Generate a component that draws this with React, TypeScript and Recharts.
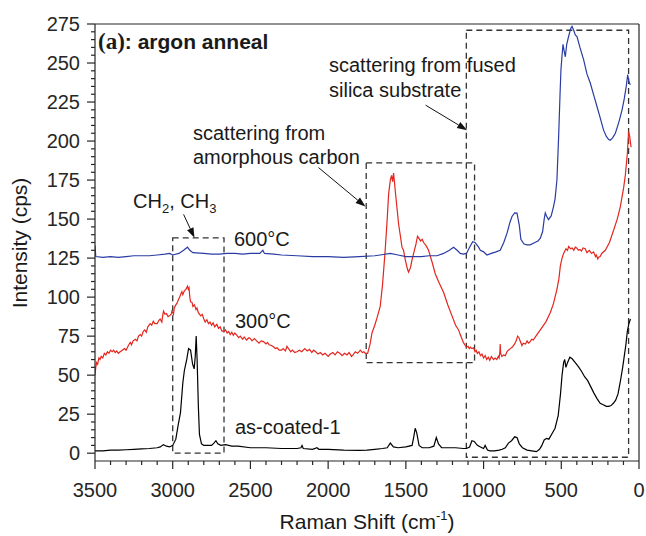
import React from 'react';
import { LineChart, Line, XAxis, YAxis, ReferenceArea, ReferenceLine } from 'recharts';

const FONT = '"Liberation Sans", Arial, sans-serif';
const SERIF = '"Liberation Serif", "Times New Roman", serif';
const INK = '#262626';

// as-coated-1 (black)
const coatedShift = [3500, 3450, 3400, 3350, 3300, 3250, 3200, 3150, 3100, 3080, 3060, 3040, 3020, 3000, 2980, 2965, 2950, 2935, 2925, 2910, 2898, 2885, 2872, 2862, 2855, 2849, 2843, 2835, 2828, 2815, 2800, 2780, 2750, 2735, 2722, 2710, 2690, 2660, 2620, 2580, 2500, 2400, 2300, 2200, 2175, 2168, 2160, 2100, 2072, 2060, 2000, 1900, 1800, 1750, 1700, 1650, 1620, 1600, 1580, 1550, 1500, 1460, 1450, 1440, 1430, 1415, 1395, 1350, 1320, 1304, 1290, 1270, 1230, 1180, 1130, 1110, 1090, 1075, 1060, 1040, 1020, 1000, 990, 975, 960, 930, 900, 880, 860, 840, 820, 800, 785, 770, 750, 720, 690, 660, 640, 625, 610, 595, 580, 560, 540, 520, 505, 495, 485, 478, 470, 460, 445, 430, 410, 390, 370, 350, 330, 310, 290, 270, 250, 230, 210, 195, 180, 165, 150, 135, 120, 105, 95, 85, 75, 65, 55];
const coatedValue = [1.5, 1.5, 2, 2, 2.2, 2.5, 2.8, 3, 3.5, 4, 5.5, 4.5, 4, 5, 9, 18, 26, 45, 53, 60, 67, 66, 57, 54, 62, 75, 60, 30, 12, 6, 5, 5, 5, 6.5, 8, 6, 5, 5.5, 4.5, 4.5, 3.5, 3.5, 3, 3, 3.5, 5, 3, 2.5, 3.5, 2.5, 2.5, 2, 1.8, 2, 2.5, 3, 3.5, 6.5, 4, 3.5, 4, 5, 10, 16, 13, 5, 3.5, 3.5, 4.5, 10, 6, 3.5, 3.5, 3.5, 3, 3, 4, 8, 7.5, 5, 4, 3, 5, 2, 1.5, 1.5, 2, 2.5, 3.5, 6.5, 8, 10.5, 10, 6, 3.5, 2, 1.5, 1, 2.5, 5, 8.5, 9.5, 9, 12.5, 16, 24, 38, 50, 58, 60, 55, 58, 61.5, 60.5, 58, 55.5, 52.5, 49, 46.5, 42.5, 38.5, 35, 32, 31, 30, 30, 30.5, 32, 34, 38, 46, 55, 62, 69, 78, 83, 86];

// 300°C (red), [shift, intensity]
const c300Points: [number, number][] = [
  [3500, 50], [3495, 55], [3490, 58], [3483, 57], [3475, 61], [3468, 60], [3460, 62], [3450, 61], [3440, 64], [3430, 63],
  [3420, 65], [3410, 64], [3400, 66], [3390, 65], [3380, 66], [3370, 64.5], [3360, 65.5], [3350, 64], [3338, 65], [3325, 66],
  [3310, 67], [3300, 66], [3290, 68], [3280, 70], [3273, 71], [3265, 69.5], [3255, 72], [3240, 73], [3230, 72], [3220, 75],
  [3209, 76], [3200, 75], [3190, 78], [3180, 79], [3170, 77.5], [3160, 81], [3145, 83], [3135, 82], [3125, 84.5], [3115, 83],
  [3100, 83], [3090, 85], [3081, 86], [3070, 84], [3065, 88], [3059, 91], [3050, 89], [3040, 89.5], [3030, 87.5], [3020, 88],
  [3010, 89], [3005, 91], [2995, 89], [2990, 93], [2980, 95], [2973, 96], [2965, 98], [2955, 100], [2948, 102], [2941, 103.5],
  [2935, 101.5], [2925, 104], [2915, 105], [2905, 107], [2900, 105], [2895, 106], [2890, 100], [2885, 97], [2875, 96.5], [2870, 94],
  [2860, 95], [2850, 92], [2844, 93], [2835, 90], [2820, 88], [2810, 89], [2800, 86], [2791, 84], [2780, 85.5], [2770, 83],
  [2760, 84], [2750, 82], [2740, 83.5], [2730, 81], [2716, 82.5], [2705, 80], [2695, 81], [2685, 78.5], [2673, 78], [2660, 79],
  [2650, 77], [2640, 78], [2630, 76], [2620, 77.5], [2610, 75.5], [2600, 77], [2587, 75.5], [2575, 74], [2565, 75], [2550, 73],
  [2540, 74.5], [2525, 72.5], [2510, 74], [2501, 73.5], [2490, 72], [2475, 73.5], [2460, 72], [2445, 70.5], [2430, 72], [2416, 71.5],
  [2400, 70], [2390, 71], [2380, 69.5], [2365, 69], [2350, 68], [2340, 67], [2329, 67.5], [2315, 66], [2300, 66], [2290, 67],
  [2275, 65.5], [2265, 68.5], [2255, 67], [2240, 65], [2230, 66], [2215, 64.5], [2201, 65], [2185, 66], [2170, 65], [2150, 67],
  [2135, 65.5], [2120, 66.5], [2105, 64.5], [2094, 66], [2080, 65], [2065, 63.5], [2050, 64.5], [2035, 63], [2020, 64], [2000, 62],
  [1986, 63.5], [1970, 64.5], [1955, 63], [1940, 65], [1925, 64], [1910, 62.5], [1895, 64], [1879, 63], [1865, 64.5], [1850, 62],
  [1840, 63], [1825, 65], [1810, 64], [1793, 66], [1780, 64.5], [1770, 65], [1760, 64], [1746, 64], [1730, 70], [1718, 77],
  [1700, 82], [1686, 86.5], [1665, 94], [1650, 108], [1633, 130], [1620, 150], [1611, 166], [1600, 175], [1592, 178], [1585, 174],
  [1579, 179.5], [1568, 168], [1555, 155], [1547, 147], [1535, 139], [1525, 132], [1515, 130], [1504, 124], [1490, 118], [1483, 116],
  [1470, 119], [1460, 124], [1450, 128], [1435, 134], [1425, 139], [1418, 138], [1405, 136], [1395, 137], [1386, 135], [1370, 133],
  [1354, 130], [1330, 122], [1311, 115], [1290, 110], [1257, 103], [1230, 95], [1203, 88], [1180, 82], [1161, 79], [1150, 76],
  [1130, 71], [1118, 69], [1110, 68], [1100, 68.5], [1092, 67], [1085, 68], [1075, 67], [1064, 67.5], [1055, 65], [1048, 66],
  [1040, 64], [1030, 65], [1020, 62.5], [1010, 63.5], [1000, 61], [990, 62.5], [980, 60], [970, 61.5], [960, 59.5], [950, 62],
  [936, 60], [925, 61], [915, 60], [905, 62], [900, 61], [895, 65], [893, 70], [890, 64], [882, 62], [871, 63],
  [860, 62.5], [850, 65], [840, 66], [828, 67], [815, 68], [800, 70], [790, 72], [781, 75], [772, 74], [765, 72],
  [753, 69], [745, 70.5], [730, 70], [720, 72], [710, 70.5], [700, 71.5], [690, 73], [680, 72.5], [670, 74], [635, 79],
  [600, 84], [571, 90], [550, 96], [528, 105], [515, 112], [506, 120], [495, 125], [485, 128], [470, 131], [460, 130],
  [453, 132.4], [440, 131], [430, 131.5], [420, 130], [410, 132], [399, 131.4], [390, 130], [380, 130.5], [370, 129.5], [360, 131.5],
  [346, 131], [335, 128.5], [320, 130], [305, 128], [292, 129], [280, 126], [275, 127], [265, 124.5], [260, 125.6], [250, 126],
  [240, 128], [217, 130], [190, 135], [163, 143], [140, 150], [120, 158], [99, 170], [88, 178], [75, 192], [67, 206],
  [60, 203], [51, 196],
];

// 600°C (blue)
const c600Shift = [3500, 3495, 3450, 3400, 3350, 3300, 3250, 3200, 3150, 3100, 3050, 3020, 3000, 2960, 2930, 2905, 2890, 2870, 2800, 2750, 2700, 2650, 2600, 2550, 2500, 2440, 2420, 2410, 2350, 2300, 2200, 2100, 2000, 1900, 1800, 1700, 1665, 1600, 1550, 1500, 1450, 1400, 1350, 1300, 1257, 1220, 1193, 1170, 1150, 1129, 1110, 1090, 1070, 1055, 1032, 1021, 1000, 978, 950, 920, 893, 870, 849, 830, 817, 800, 785, 770, 760, 740, 720, 700, 670, 650, 635, 620, 610, 603, 595, 582, 565, 550, 540, 528, 517, 508, 502, 495, 489, 482, 474, 465, 453, 440, 431, 420, 410, 399, 380, 356, 335, 313, 290, 270, 250, 228, 210, 195, 185, 170, 152, 130, 109, 95, 82, 73, 65, 56];
const c600Value = [133, 126, 125.5, 126, 125.5, 126, 126.5, 126.5, 126.5, 127, 127.5, 128, 127, 128, 130, 132, 130, 128.5, 128, 127.5, 127.5, 128, 128, 127.5, 128, 128, 130, 128, 127.5, 127, 126.5, 126, 126, 125.5, 126, 126.5, 127, 128, 127, 126, 126, 126, 126.5, 126.5, 128, 130, 132, 130, 128, 127.5, 128, 132, 135.5, 135, 132, 130, 129, 127, 128, 129, 130, 135, 141, 148, 151.7, 154, 153.8, 146, 137, 134, 133.5, 133.5, 135, 136, 137.8, 142, 150, 154, 152, 149.6, 152, 158, 163, 175, 203, 230, 246, 255, 262, 258, 254, 262, 267, 272, 273.5, 271, 268, 267, 260, 252, 243, 237, 229, 222, 215, 207, 203, 201, 200.5, 202, 205, 212, 220, 227, 235, 242.5, 238, 236];

const xTicks = Array.from({ length: 36 }, (_, i) => i * 100);
const yTicks = Array.from({ length: 56 }, (_, i) => i * 5);

const toPoints = (xs: number[], ys: number[]) => xs.map((x, i) => ({ shift: x, value: ys[i] }));
const coated = toPoints(coatedShift, coatedValue);
const c300 = c300Points.map(([shift, value]) => ({ shift, value }));
const c600 = toPoints(c600Shift, c600Value);

function XTick({ x, y, payload }: any) {
  const major = payload.value % 500 === 0;
  return (
    <g>
      <line x1={x} y1={y} x2={x} y2={y + (major ? 8 : 4)} stroke={INK} strokeWidth={1.2} />
      {major && (
        <text x={x} y={y + 36} textAnchor="middle" fontSize={20} fill={INK} fontFamily={FONT}>
          {payload.value}
        </text>
      )}
    </g>
  );
}

function YTick({ x, y, payload }: any) {
  const major = payload.value % 25 === 0;
  return (
    <g>
      <line x1={x - (major ? 8 : 4)} y1={y} x2={x} y2={y} stroke={INK} strokeWidth={1.2} />
      {major && (
        <text x={x - 15} y={y + 7} textAnchor="end" fontSize={20} fill={INK} fontFamily={FONT}>
          {payload.value}
        </text>
      )}
    </g>
  );
}

function Arrow({ x1, y1, x2, y2 }: any) {
  const a = Math.atan2(y2 - y1, x2 - x1);
  const len = 10, half = 3.5;
  const bx = x2 - len * Math.cos(a), by = y2 - len * Math.sin(a);
  const p1 = `${bx + half * Math.sin(a)},${by - half * Math.cos(a)}`;
  const p2 = `${bx - half * Math.sin(a)},${by + half * Math.cos(a)}`;
  return (
    <g>
      <line x1={x1} y1={y1} x2={bx} y2={by} stroke="#111" strokeWidth={1} />
      <polygon points={`${x2},${y2} ${p1} ${p2}`} fill="#111" />
    </g>
  );
}

const dashed = { fill: 'none', fillOpacity: 0, stroke: '#333', strokeWidth: 1.3, strokeDasharray: '6 4', ifOverflow: 'visible' as const };

export default function App() {
  return (
    <div style={{ position: 'absolute', left: 0, top: 0, width: 646, height: 536, background: '#fff' }}>
      <LineChart width={646} height={536} margin={{ top: 24, right: 7, bottom: 0, left: 0 }}>
        <XAxis
          type="number" dataKey="shift" domain={[0, 3500]} reversed allowDataOverflow
          ticks={xTicks} interval={0} tick={<XTick />} tickLine={false} tickSize={0} tickMargin={0}
          height={75} axisLine={{ stroke: INK, strokeWidth: 1.2 }}
        />
        <YAxis
          type="number" dataKey="value" domain={[-5, 275]} allowDataOverflow
          ticks={yTicks} interval={0} tick={<YTick />} tickLine={false} tickSize={0} tickMargin={0}
          width={95} axisLine={{ stroke: INK, strokeWidth: 1.2 }}
        />
        <ReferenceLine y={275} stroke={INK} strokeWidth={1.2} />
        <ReferenceLine x={0} stroke={INK} strokeWidth={1.2} />

        <Line data={coated} dataKey="value" stroke="#000" strokeWidth={1.2} dot={false} isAnimationActive={false} />
        <Line data={c300} dataKey="value" stroke="#e3261e" strokeWidth={1.2} dot={false} isAnimationActive={false} />
        <Line data={c600} dataKey="value" stroke="#2a3ca3" strokeWidth={1.2} dot={false} isAnimationActive={false} />

        <ReferenceArea x1={3000} x2={2670} y1={0} y2={138} {...dashed} />
        <ReferenceArea x1={1755} x2={1058} y1={58} y2={186} {...dashed} />
        <ReferenceArea x1={1111} x2={67} y1={-2.6} y2={271} {...dashed} />

        <ReferenceLine segment={[{ x: 2930, y: 153 }, { x: 2860, y: 138 }]} shape={<Arrow />} ifOverflow="visible" />
        <ReferenceLine segment={[{ x: 2062, y: 183 }, { x: 1760, y: 158 }]} shape={<Arrow />} ifOverflow="visible" />
        <ReferenceLine segment={[{ x: 1373, y: 223 }, { x: 1106, y: 207 }]} shape={<Arrow />} ifOverflow="visible" />
      </LineChart>

      <svg width={646} height={536} style={{ position: 'absolute', left: 0, top: 0, pointerEvents: 'none' }}>
        <g fill="#1a1a1a" fontSize={20} style={{ fontFamily: FONT }}>
          <text x={98} y={49} fontWeight="bold" fontSize={21}>
            <tspan style={{ fontFamily: SERIF }} fontSize={23}>(a)</tspan>
            <tspan style={{ fontFamily: FONT }}>: argon anneal</tspan>
          </text>

          <text x={193} y={140}>scattering from</text>
          <text x={193} y={164}>amorphous carbon</text>
          <text x={329} y={72}>scattering from fused</text>
          <text x={329} y={97}>silica substrate</text>

          <text x={133} y={208}>
            CH<tspan fontSize={13} dy={5}>2</tspan><tspan dy={-5}>, CH</tspan><tspan fontSize={13} dy={5}>3</tspan>
          </text>
          <text x={234} y={246}>600°C</text>
          <text x={235} y={328}>300°C</text>
          <text x={235} y={434}>as-coated-1</text>

          <text x={367} y={529} textAnchor="middle" fontSize={21}>
            Raman Shift (cm<tspan fontSize={13} dy={-9}>-1</tspan><tspan dy={9}>)</tspan>
          </text>
          <text transform="translate(27, 243) rotate(-90)" textAnchor="middle" fontSize={21}>Intensity (cps)</text>
        </g>
      </svg>
    </div>
  );
}
